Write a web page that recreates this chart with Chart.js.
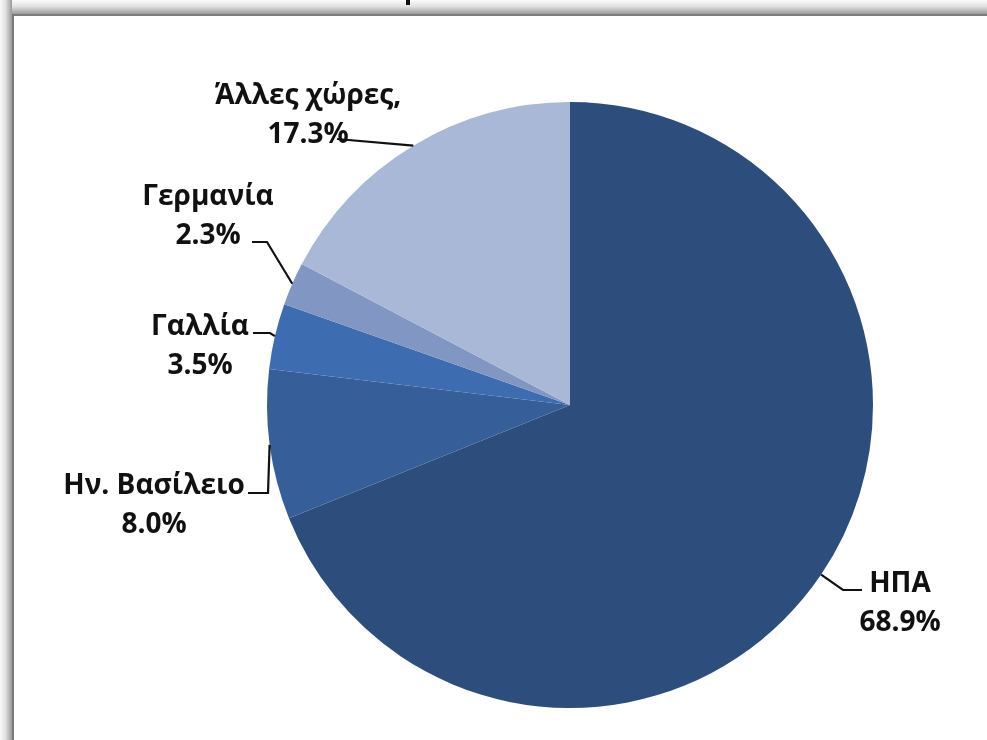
<!DOCTYPE html>
<html lang="el">
<head>
    <meta charset="UTF-8">
    <title>Κατανομή ανά χώρα</title>
    <script src="https://cdn.jsdelivr.net/npm/chart.js@4.4.1/dist/chart.umd.min.js"></script>
    <style>
        html, body { margin: 0; padding: 0; background: #fff; overflow: hidden; }
        body { width: 987px; height: 740px; position: relative; }
        /* σκιά και περίγραμμα πλαισίου (πάνω και αριστερά) */
        .shade-top {
            position: absolute; left: 0; top: 0; width: 987px; height: 14px;
            background: linear-gradient(to bottom, #fbfbfb 0%, #e2e2e2 45%, #b4b4b4 80%, #9a9a9a 100%);
        }
        .shade-left {
            position: absolute; left: 0; top: 0; width: 12px; height: 740px;
            background: linear-gradient(to right, #fbfbfb 0%, #e2e2e2 45%, #b4b4b4 80%, #9a9a9a 100%);
        }
        .frame {
            position: absolute; left: 12px; top: 14px; width: 990px; height: 740px;
            border-top: 2px solid #7b7b7b; border-left: 2px solid #7b7b7b;
            background: #fff;
        }
        .title-tail { position: absolute; left: 406px; top: 0; width: 4px; height: 5px; background: #111; }
        #wrap { position: absolute; left: 0; top: 0; width: 987px; height: 740px; }
    </style>
</head>
<body>
    <div class="shade-top"></div>
    <div class="shade-left"></div>
    <div class="frame"></div>
    <div class="title-tail"></div>
    <div id="wrap"><canvas id="pie"></canvas></div>

    <script>
        // Μερίδια ανά χώρα (%)
        const countries = ['ΗΠΑ', 'Ην. Βασίλειο', 'Γαλλία', 'Γερμανία', 'Άλλες χώρες,'];
        const shares = [68.9, 8.0, 3.5, 2.3, 17.3];
        const sliceColors = ['#2d4d7c', '#365f9a', '#3e6cb0', '#8196c3', '#a9b8d7'];

        // θέσεις ετικετών: κέντρο κειμένου, γραμμή βάσης, και σημεία οδηγού (από το τόξο προς την ετικέτα)
        const labelLayout = [
            { x: 900, y: 592, path: [[843, 590], [862, 590]] },
            { x: 154, y: 494, path: [[268, 493], [248, 493]] },
            { x: 200, y: 335, path: [[270, 333], [253, 333]] },
            { x: 208, y: 205, path: [[267, 242], [252, 242]] },
            { x: 308, y: 104, path: [[337, 139]] }
        ];
        const lineGap = 39;

        const calloutPlugin = {
            id: 'callouts',
            afterDatasetsDraw(chart) {
                const ctx = chart.ctx;
                const arcs = chart.getDatasetMeta(0).data;
                ctx.save();
                arcs.forEach((arc, i) => {
                    const p = arc.getProps(['x', 'y', 'startAngle', 'endAngle', 'outerRadius'], true);
                    const mid = (p.startAngle + p.endAngle) / 2;
                    const sx = p.x + Math.cos(mid) * p.outerRadius;
                    const sy = p.y + Math.sin(mid) * p.outerRadius;
                    const lay = labelLayout[i];

                    ctx.strokeStyle = '#111';
                    ctx.lineWidth = 2.2;
                    ctx.beginPath();
                    ctx.moveTo(sx, sy);
                    lay.path.forEach(pt => ctx.lineTo(pt[0], pt[1]));
                    ctx.stroke();

                    ctx.fillStyle = '#111';
                    ctx.font = 'bold 28px "Open Sans", "Noto Sans", sans-serif';
                    ctx.textAlign = 'center';
                    ctx.textBaseline = 'alphabetic';
                    ctx.fillText(countries[i], lay.x, lay.y);
                    ctx.fillText(shares[i].toFixed(1) + '%', lay.x, lay.y + lineGap);
                });
                ctx.restore();
            }
        };

        new Chart(document.getElementById('pie'), {
            type: 'pie',
            data: {
                labels: countries,
                datasets: [{
                    data: shares,
                    backgroundColor: sliceColors,
                    borderWidth: 0
                }]
            },
            options: {
                responsive: true,
                maintainAspectRatio: false,
                animation: false,
                layout: { padding: { left: 267, right: 114, top: 102, bottom: 32 } },
                plugins: {
                    legend: { display: false },
                    tooltip: { enabled: false }
                }
            },
            plugins: [calloutPlugin]
        });
    </script>
</body>
</html>
